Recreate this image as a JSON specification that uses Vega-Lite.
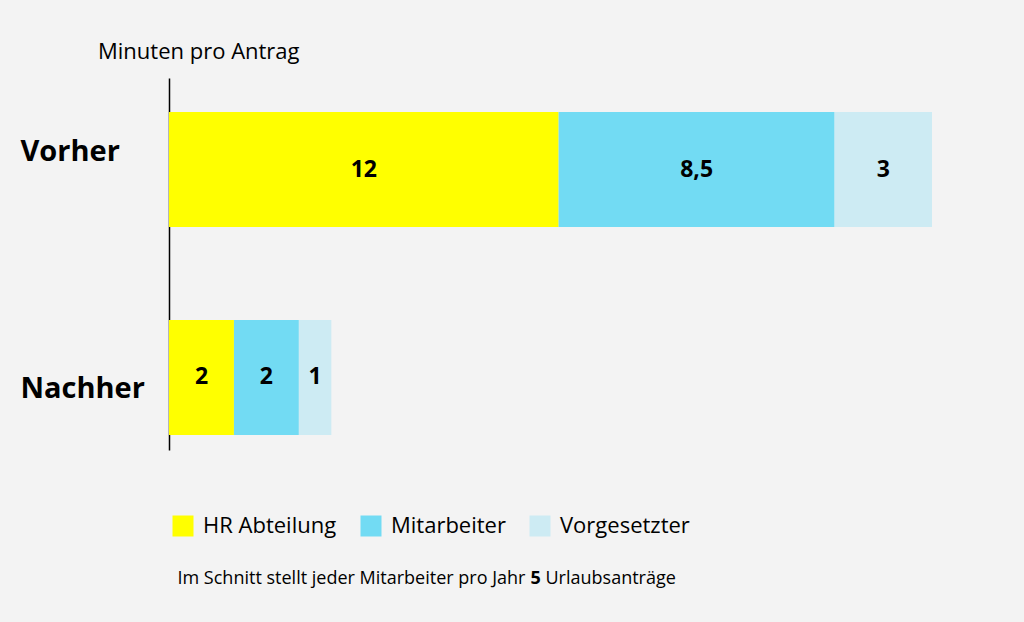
{
  "$schema": "https://vega.github.io/schema/vega-lite/v6.json",
  "width": 763,
  "height": 372,
  "autosize": {"type": "none"},
  "padding": {"left": 169, "top": 78, "right": 92, "bottom": 172},
  "background": "#f3f3f3",
  "title": {
    "text": "Minuten pro Antrag",
    "anchor": "start",
    "frame": "group",
    "orient": "top",
    "dx": -71,
    "offset": -8,
    "baseline": "bottom",
    "font": "Open Sans",
    "fontSize": 22,
    "fontWeight": "normal",
    "color": "#000000"
  },
  "data": {
    "values": [
      {"phase": "Vorher", "role": "HR Abteilung", "minutes": 12},
      {"phase": "Vorher", "role": "Mitarbeiter", "minutes": 8.5},
      {"phase": "Vorher", "role": "Vorgesetzter", "minutes": 3},
      {"phase": "Nachher", "role": "HR Abteilung", "minutes": 2},
      {"phase": "Nachher", "role": "Mitarbeiter", "minutes": 2},
      {"phase": "Nachher", "role": "Vorgesetzter", "minutes": 1}
    ]
  },
  "transform": [
    {"stack": "minutes", "groupby": ["phase"], "sort": [{"field": "role", "order": "ascending"}], "as": ["m0", "m1"]},
    {"calculate": "(datum.m0 + datum.m1) / 2", "as": "mid"}
  ],
  "encoding": {
    "y": {
      "field": "phase",
      "type": "nominal",
      "sort": ["Vorher", "Nachher"],
      "scale": {"paddingInner": 0.447, "paddingOuter": 0.118, "align": 0.694},
      "axis": {
        "title": "Urlaubsanträge",
        "titleAngle": 0,
        "titleX": 376,
        "titleY": 500,
        "titleAlign": "left",
        "titleBaseline": "middle",
        "titleFont": "Open Sans",
        "titleFontSize": 18,
        "titleFontWeight": "normal",
        "titleColor": "#000000",
        "domain": true,
        "domainColor": "#000000",
        "domainWidth": 1.5,
        "ticks": false,
        "tickSize": 0,
        "grid": false,
        "labelAlign": "left",
        "labelBaseline": "middle",
        "labelPadding": 149,
        "labelFont": "Open Sans",
        "labelFontSize": 29,
        "labelFontWeight": "bold",
        "labelColor": "#000000",
        "labelOffset": {"condition": {"test": "datum.value === 'Vorher'", "value": -18}, "value": 12}
      }
    }
  },
  "resolve": {"axis": {"x": "independent"}},
  "layer": [
    {
      "mark": {"type": "bar"},
      "encoding": {
        "x": {
          "field": "m0",
          "type": "quantitative",
          "scale": {"domain": [0, 23.5], "nice": false, "zero": true},
          "axis": {
            "orient": "bottom",
            "title": "Im Schnitt stellt jeder Mitarbeiter pro Jahr",
            "titleX": 8,
            "titleY": 128,
            "titleAlign": "left",
            "titleAnchor": "start",
            "titleBaseline": "middle",
            "titleFont": "Open Sans",
            "titleFontSize": 18,
            "titleFontWeight": "normal",
            "titleColor": "#000000",
            "domain": false,
            "labels": false,
            "ticks": false,
            "grid": false
          }
        },
        "x2": {"field": "m1"},
        "color": {
          "field": "role",
          "type": "nominal",
          "scale": {
            "domain": ["HR Abteilung", "Mitarbeiter", "Vorgesetzter"],
            "range": ["#ffff00", "#72dbf3", "#cdebf3"]
          },
          "legend": {
            "orient": "none",
            "direction": "horizontal",
            "legendX": 3,
            "legendY": 437,
            "title": null,
            "padding": 0,
            "symbolType": "square",
            "symbolSize": 441,
            "symbolStrokeWidth": 0,
            "symbolOpacity": 1,
            "labelFont": "Open Sans",
            "labelFontSize": 22,
            "labelColor": "#000000",
            "labelOffset": 9,
            "columnPadding": 23,
            "labelLimit": 300
          }
        }
      }
    },
    {
      "mark": {"type": "text", "font": "Open Sans", "fontSize": 23, "fontWeight": "bold", "color": "#000000", "baseline": "middle", "align": "center"},
      "encoding": {
        "x": {
          "field": "mid",
          "type": "quantitative",
          "axis": {
            "orient": "top",
            "title": "5",
            "titleX": 361,
            "titleY": 500,
            "titleAlign": "left",
            "titleAnchor": "start",
            "titleBaseline": "middle",
            "titleFont": "Open Sans",
            "titleFontSize": 18,
            "titleFontWeight": "bold",
            "titleColor": "#000000",
            "domain": false,
            "labels": false,
            "ticks": false,
            "grid": false
          }
        },
        "text": {"field": "minutes", "type": "quantitative", "format": "~g"}
      }
    }
  ],
  "config": {
    "view": {"stroke": null},
    "locale": {"number": {"decimal": ",", "thousands": ".", "grouping": [3], "currency": ["", " €"]}}
  }
}
